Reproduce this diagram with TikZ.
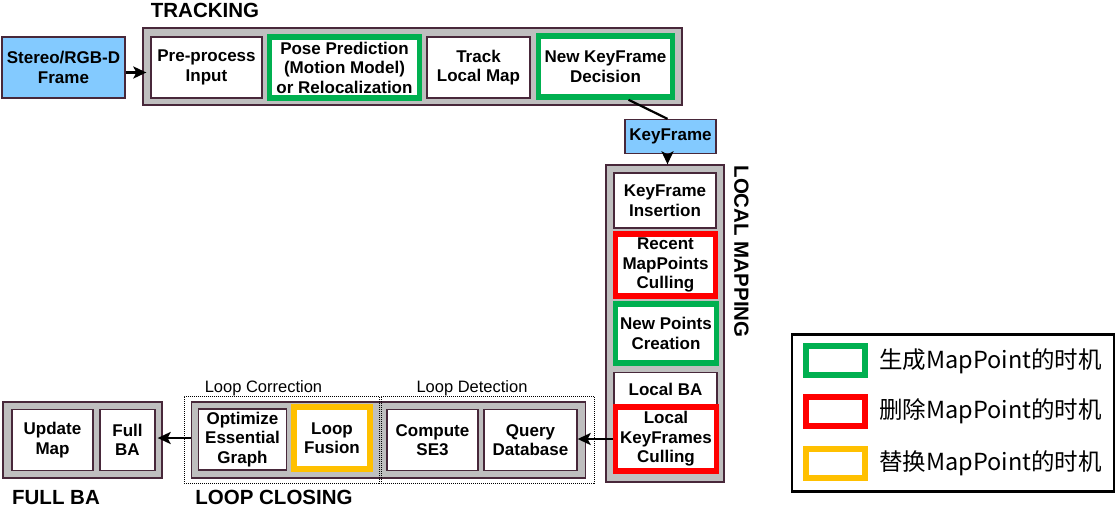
\documentclass[tikz,border=0pt]{standalone}
\usepackage{fontspec}
\setmainfont{Liberation Sans}
\newfontfamily\cjk{Noto Sans CJK SC}
\usetikzlibrary{arrows.meta,calc}
\definecolor{bd}{RGB}{72,40,58}
\definecolor{grayfill}{RGB}{191,191,191}
\definecolor{bluefill}{RGB}{131,202,255}
\definecolor{mygreen}{RGB}{0,176,80}
\definecolor{myred}{RGB}{255,0,0}
\definecolor{myorange}{RGB}{255,192,0}
\begin{document}
\begin{tikzpicture}[x=1pt,y=-1pt,
 sz/.style 2 args={minimum width=#1pt, minimum height=#2pt},
 container/.style={draw=bd, fill=grayfill, line width=1.3pt, inner sep=0pt},
 wbox/.style={draw=bd, fill=white, line width=1.3pt, inner sep=0pt, align=center, font=\fontsize{17}{19.5}\selectfont\bfseries},
 bbox/.style={wbox, fill=bluefill},
 gbox/.style={wbox, draw=mygreen, line width=5.5pt},
 rbox/.style={wbox, draw=myred, line width=5.5pt},
 obox/.style={wbox, draw=myorange, line width=5.5pt},
 title/.style={font=\fontsize{20.5}{24}\selectfont\bfseries, inner sep=0pt},
 sublabel/.style={font=\fontsize{16.5}{20}\selectfont, inner sep=0pt},
 dotbox/.style={draw=black, line width=0.8pt, dash pattern=on 1pt off 1pt, inner sep=0pt},
 arr/.style={line width=2.5pt, -{Stealth[length=13pt,width=12pt,inset=3pt]}},
 conn/.style={line width=2.2pt},
 legbox/.style={line width=6pt, inner sep=0pt, sz={59}{29}},
 legtext/.style={font=\cjk\fontsize{23.5}{26}\selectfont, anchor=west, inner sep=0pt}
]
\useasboundingbox (0,0) rectangle (1119,507);

% ---------- TRACKING ----------
\node[title, anchor=base] (ttrack) at (205,17) {TRACKING};
\node[container, sz={539}{77}] (track) at (412.5,66.5) {};
\node[bbox, sz={123}{61}] (stereo) at (63.5,67.5) {Stereo/RGB-D\\Frame};
\node[wbox, sz={111}{61}] (pre) at (206.5,67.5) {Pre-process\\Input};
\node[gbox, sz={150}{61}] (pose) at (344.5,67.5) {Pose Prediction\\(Motion Model)\\or Relocalization};
\node[wbox, sz={103}{61}] (tlm) at (478.5,67.5) {Track\\Local Map};
\node[gbox, sz={134}{61}] (nkd) at (605.5,66.5) {New KeyFrame\\Decision};

\node[bbox, sz={91}{34}] (kf) at (670.5,136.5) {KeyFrame};

% ---------- LOCAL MAPPING ----------
\node[container, sz={118}{317}] (lm) at (665,323.5) {};
\node[title, rotate=-90] (tlocal) at (741.5,251.5) {LOCAL MAPPING};
\node[wbox, sz={102}{55}] (kfi) at (665,200.5) {KeyFrame\\Insertion};
\node[rbox, sz={100}{62}] (rmc) at (665.5,265) {Recent\\MapPoints\\Culling};
\node[gbox, sz={101}{59}] (npc) at (666,333.5) {New Points\\Creation};
\node[wbox, sz={103}{38}, anchor=north] (lba) at (665.5,372) {};
\node[font=\fontsize{17}{19.5}\selectfont\bfseries, inner sep=0pt] (lbat) at (665.5,389) {Local BA};
\node[rbox, sz={101}{64}] (lkc) at (666,439) {Local\\KeyFrames\\Culling};

% ---------- LOOP CLOSING ----------
\node[container, sz={394}{76}] (lc) at (388.5,440) {};
\node[wbox, sz={88}{61}] (oeg) at (242.5,439.5) {Optimize\\Essential\\Graph};
\node[obox, sz={76}{62}] (lf) at (332,438) {Loop\\Fusion};
\node[wbox, sz={91}{61}] (cse) at (432.5,440) {Compute\\SE3};
\node[wbox, sz={93}{61}] (qdb) at (530.5,440) {Query\\Database};
\node[dotbox, sz={195}{87}] (dcor) at (281.5,439.5) {};
\node[dotbox, sz={213}{87}] (ddet) at (487.5,439.5) {};
\node[sublabel, anchor=base] (tcor) at (263.5,392) {Loop Correction};
\node[sublabel, anchor=base] (tdet) at (472,392) {Loop Detection};
\node[title, anchor=base] (tloop) at (274,504) {LOOP CLOSING};

% ---------- FULL BA ----------
\node[container, sz={159}{76}] (fba) at (82.5,440) {};
\node[wbox, sz={81}{61}] (upd) at (52.5,440) {Update\\Map};
\node[wbox, sz={55}{61}] (fbab) at (127.5,440) {Full\\BA};
\node[title, anchor=base] (tfull) at (56,504) {FULL BA};

% ---------- connectors ----------
\draw[arr] ([yshift=-5pt]stereo.east) -- ([yshift=-5pt,xshift=-4pt]pre.west);
\draw[conn] ([xshift=23pt]nkd.south) -- ([xshift=-3pt]kf.north);
\draw[arr] ([xshift=-3pt]kf.south) -- ([xshift=-3pt]kf.south |- lm.north);
\draw[arr] (lkc.west) -- (lkc.west -| qdb.east);
\draw[arr] ([yshift=2pt]lc.west) -- ([yshift=2pt,xshift=2pt]fbab.east);

% ---------- legend ----------
\node[draw=black, line width=2.5pt, inner sep=0pt, sz={322}{157}] (legend) at (953,413) {};
\node[legbox, draw=mygreen] (lg1) at (835.5,360.5) {};
\node[legbox, draw=myred] (lg2) at (835.5,411.5) {};
\node[legbox, draw=myorange] (lg3) at (835.5,463) {};
\node[legtext] (lt1) at (879,361) {生成MapPoint的时机};
\node[legtext] (lt2) at (879,411.5) {删除MapPoint的时机};
\node[legtext] (lt3) at (879,463) {替换MapPoint的时机};
\end{tikzpicture}
\end{document}
